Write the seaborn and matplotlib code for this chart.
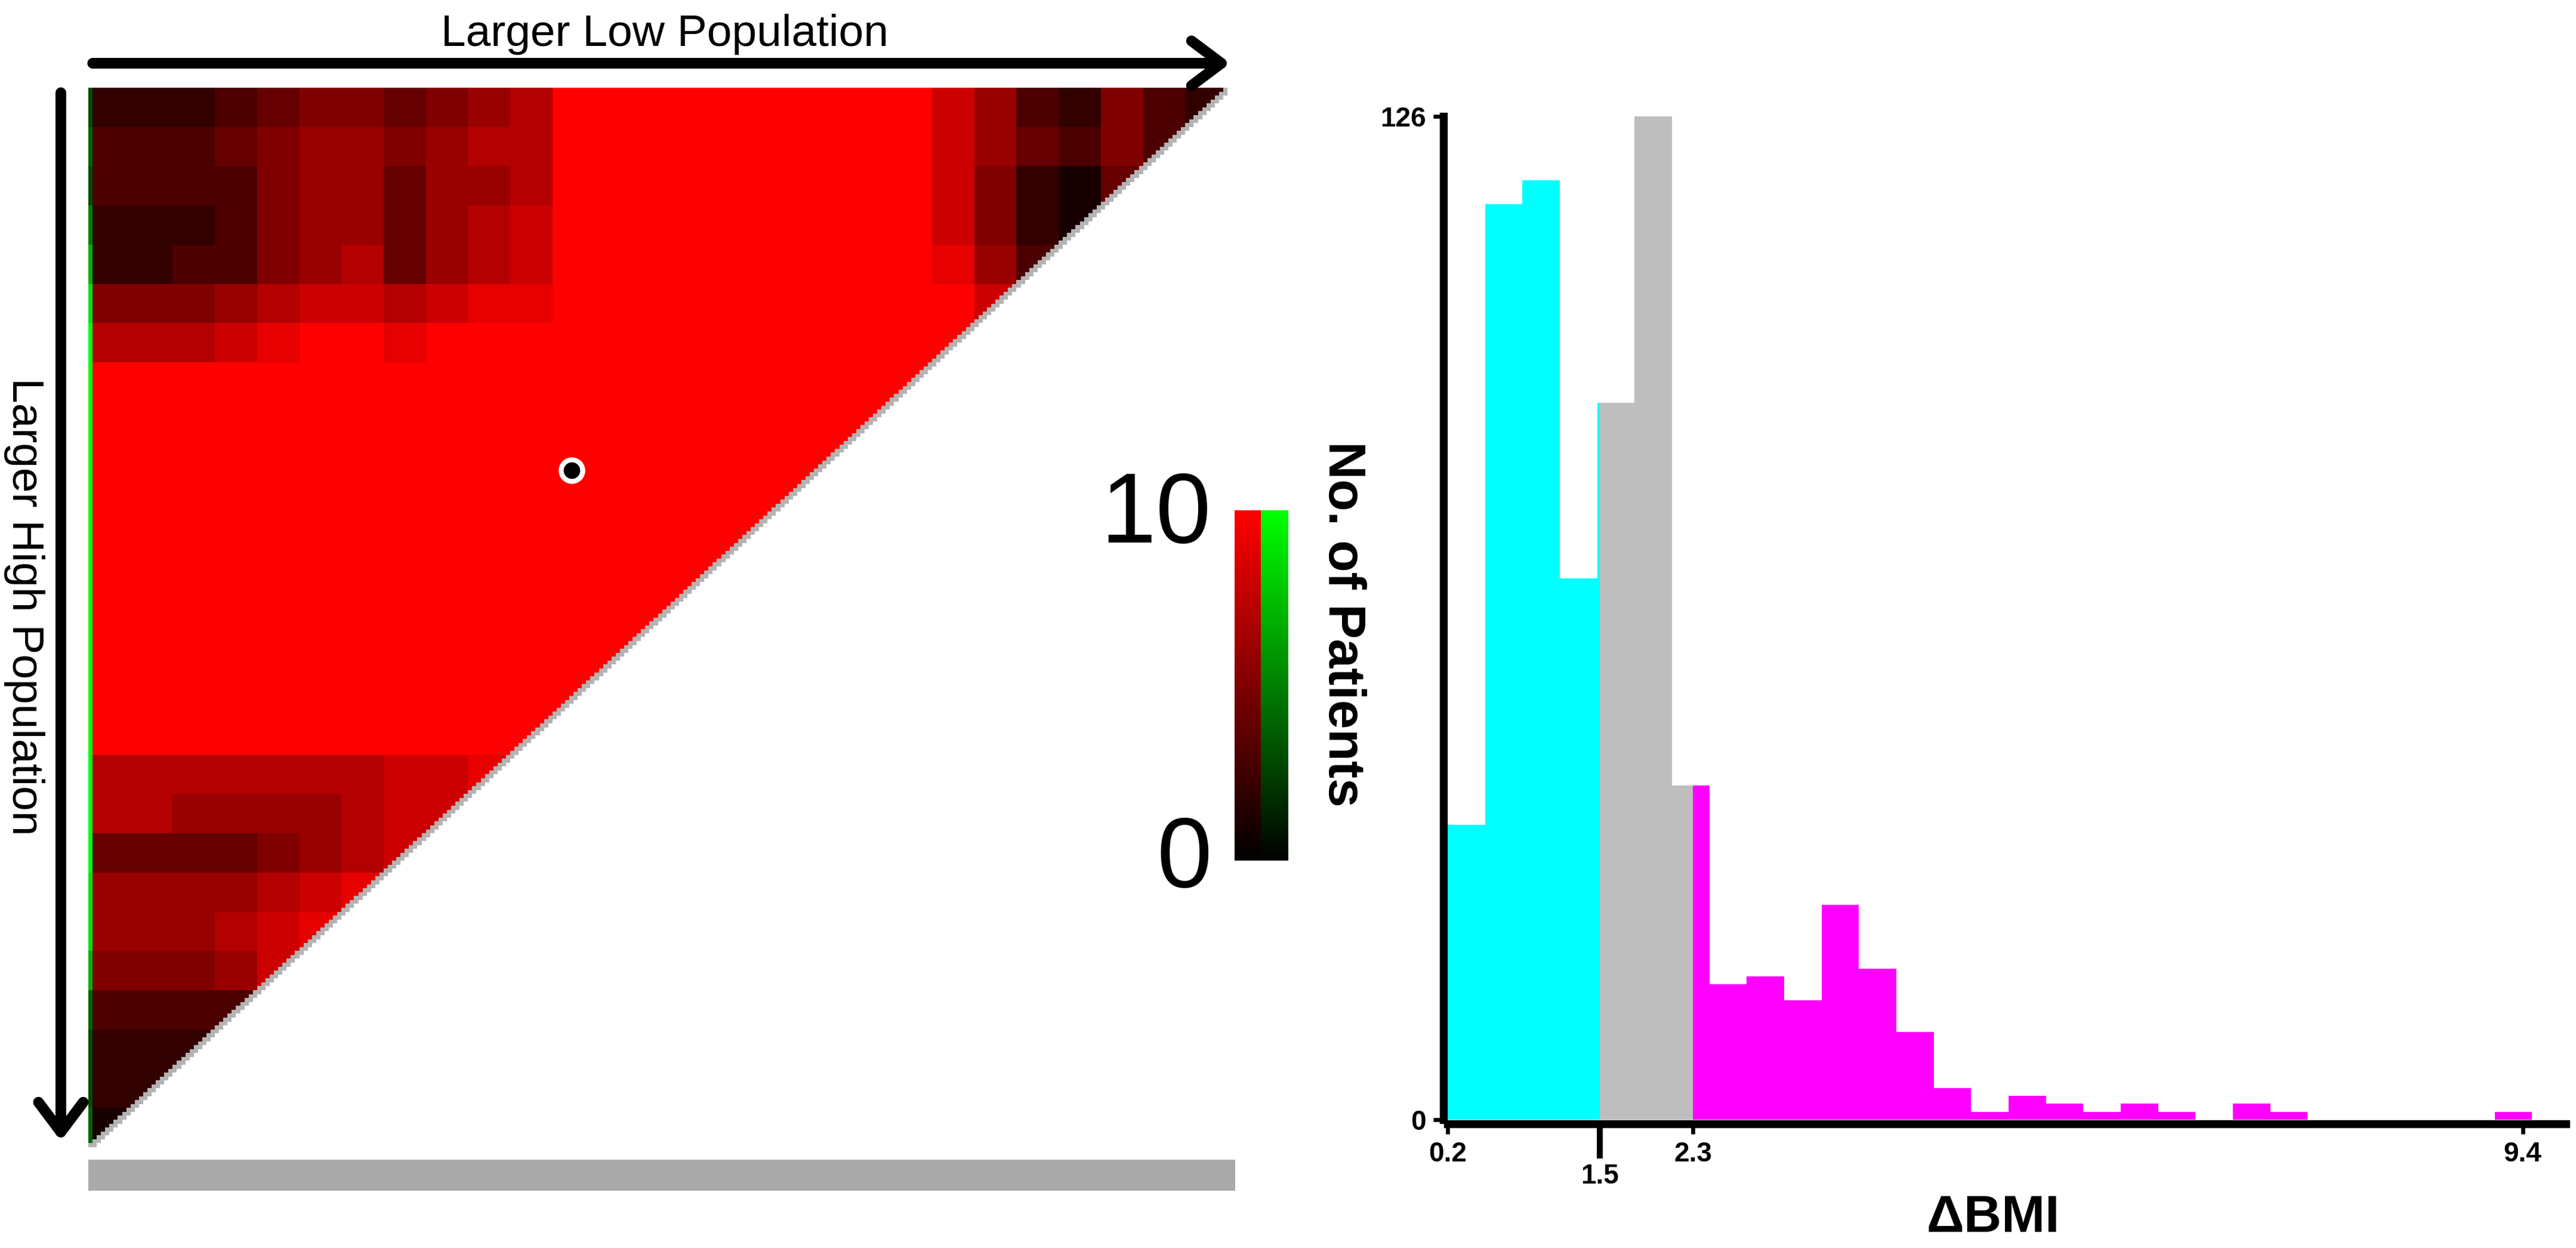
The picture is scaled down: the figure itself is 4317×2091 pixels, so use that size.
import numpy as np
import pandas as pd
import matplotlib
matplotlib.use("Agg")
import matplotlib.pyplot as plt
import seaborn as sns
from matplotlib.colors import LinearSegmentedColormap, ListedColormap, Normalize
from matplotlib.cm import ScalarMappable
from matplotlib.patches import FancyArrowPatch, Rectangle

sns.set_theme(style="white")
plt.rcParams['font.family'] = ['Liberation Sans', 'DejaVu Sans']
plt.rcParams['text.color'] = 'black'
plt.rcParams['axes.labelcolor'] = 'black'
plt.rcParams['xtick.color'] = 'black'
plt.rcParams['ytick.color'] = 'black'

# Histogram of delta BMI (counts per bin)
bin_start = 0.2
bin_width = 0.32
bin_counts = [37, 115, 118, 68, 90, 126, 42, 17, 18, 15, 27, 19, 11, 4, 1,
              3, 2, 1, 2, 1, 0, 2, 1, 0, 0, 0, 0, 0, 1]
thresholds = [1.5, 2.3]
group_colors = ['#00FFFF', '#BEBEBE', '#FF00FF']
x_ticks = [0.2, 2.3, 9.4]
x_tick_labels = ['0.2', '2.3', '9.4']
x_minor_ticks = [1.5]
x_minor_labels = ['1.5']
y_ticks = [0, 126]
y_tick_labels = ['0', '126']

# Cut-off map, coarse cells (rows = high cut-off, cols = low cut-off)
# digits = no. of patients, 'r' = 10 or more
coarse_rows = [
    "22234554567rrrrrrrrr8632532",
    "33345665677rrrrrrrrr864353",
    "33335664667rrrrrrrrr85214",
    "22235664678rrrrrrrrr8521",
    "22335674678rrrrrrrrr963",
    "55567887899rrrrrrrrrr8",
    "77789rr9rrrrrrrrrrrrr",
    "rrrrrrrrrrrrrrrrrrrr",
    "rrrrrrrrrrrrrrrrrrr",
    "rrrrrrrrrrrrrrrrrr",
    "rrrrrrrrrrrrrrrrr",
    "rrrrrrrrrrrrrrrr",
    "rrrrrrrrrrrrrrr",
    "rrrrrrrrrrrrrr",
    "rrrrrrrrrrrrr",
    "rrrrrrrrrrrr",
    "rrrrrrrrrrr",
    "7777777889",
    "776666788",
    "44445678",
    "6666789",
    "666789",
    "55568",
    "3333",
    "222",
    "22",
    "1",
]
# first column (other group), same rows
green_col = [3, 4, 3, 5, 7, 9, 10, 10, 10, 10, 10, 10, 10, 10, 10, 10, 10,
             10, 10, 10, 9, 9, 7, 4, 3, 3, 4]
best_cell = (97, 114)  # row, col of the chosen cut-off pair
rep = 10

W, H = 4317, 2091
fig = plt.figure(figsize=(W / 300, H / 300), dpi=300)
fig.patch.set_facecolor('white')

# ---------------- heatmap ----------------
ncell = len(coarse_rows)
coarse = np.array([[10.0 if ch == 'r' else float(ch)
                    for ch in row.ljust(ncell, 'r')[:ncell]]
                   for row in coarse_rows])
fine = np.kron(coarse, np.ones((rep, rep)))
N = fine.shape[0]
ii, jj = np.indices(fine.shape)
tri = ii + jj < N - 1
red_vals = np.where(tri & (jj > 0), fine, np.nan)
green_vals = np.where(tri & (jj == 0), np.repeat(green_col, rep)[:, None], np.nan)
edge_vals = np.where((ii + jj == N - 1) | (ii + jj == N), 1.0, np.nan)

red_cmap = LinearSegmentedColormap.from_list('blk_red', ['#000000', '#FF0000'])
green_cmap = LinearSegmentedColormap.from_list('blk_green', ['#000000', '#00FF00'])

axm = fig.add_axes([148 / W, 1 - 1922 / H, 1909 / W, 1775 / H])
sns.heatmap(red_vals, cmap=red_cmap, vmin=0, vmax=10, cbar=False,
            xticklabels=False, yticklabels=False, ax=axm)
sns.heatmap(green_vals, cmap=green_cmap, vmin=0, vmax=10, cbar=False,
            xticklabels=False, yticklabels=False, ax=axm)
sns.heatmap(edge_vals, cmap=ListedColormap(['#B4B4B4']), cbar=False,
            xticklabels=False, yticklabels=False, ax=axm)
axm.scatter(best_cell[1] + 0.5, best_cell[0] + 0.5, s=75, c='black',
            edgecolors='white', linewidths=2, zorder=5)
axm.axis('off')

# gray bar under the map
fig.add_artist(Rectangle((148 / W, 1 - 1995 / H), 1922 / W, 52 / H,
                         transform=fig.transFigure, color='#AAAAAA', lw=0))

# arrows + labels
fig.add_artist(FancyArrowPatch((147 / W, 1 - 106 / H), (2070 / W, 1 - 106 / H),
                               transform=fig.transFigure,
                               arrowstyle='->,head_length=0.6,head_width=0.45',
                               mutation_scale=20, lw=4.3, color='black'))
fig.add_artist(FancyArrowPatch((102 / W, 1 - 147 / H), (102 / W, 1 - 1920 / H),
                               transform=fig.transFigure,
                               arrowstyle='->,head_length=0.6,head_width=0.45',
                               mutation_scale=20, lw=4.3, color='black'))
fig.text(1114 / W, 1 - 57 / H, 'Larger Low Population', ha='center', va='center',
         fontsize=18)
fig.text(40 / W, 1 - 1016 / H, 'Larger High Population', ha='center', va='center',
         rotation=270, fontsize=18)

# colour bars
norm = Normalize(vmin=0, vmax=10)
for left, width, cmap in [(2069, 44, red_cmap), (2113, 46, green_cmap)]:
    cax = fig.add_axes([left / W, 1 - 1442 / H, width / W, 587 / H])
    cb = fig.colorbar(ScalarMappable(norm=norm, cmap=cmap), cax=cax)
    cb.set_ticks([])
    cb.outline.set_visible(False)
fig.text(2030 / W, 1 - 909 / H, '10', ha='right', va='baseline', fontsize=40)
fig.text(2031 / W, 1 - 1486 / H, '0', ha='right', va='baseline', fontsize=40)
fig.text(2250 / W, 1 - 1045 / H, 'No. of Patients', ha='center', va='center',
         rotation=270, fontsize=21, fontweight='bold')

# ---------------- histogram ----------------
axh = fig.add_axes([2426 / W, 1 - 1876 / H, 1874 / W, 1681 / H])
edges = bin_start + bin_width * np.arange(len(bin_counts) + 1)
bounds = [edges[0]] + thresholds + [edges[-1]]
counts = np.array(bin_counts)
for k, color in enumerate(group_colors):
    lo, hi = bounds[k], bounds[k + 1]
    inner = edges[(edges > lo + 1e-9) & (edges < hi - 1e-9)]
    g_edges = np.concatenate([[lo], inner, [hi]])
    centers = (g_edges[:-1] + g_edges[1:]) / 2
    idx = np.floor((centers - bin_start) / bin_width).astype(int)
    df = pd.DataFrame({'dbmi': centers, 'n': counts[idx]})
    sns.histplot(data=df, x='dbmi', weights='n', bins=list(g_edges), color=color,
                 alpha=1, linewidth=0, ax=axh)

axh.set_xlim(bin_start, 9.77)
axh.set_ylim(0, 126)
sns.despine(ax=axh)
for side in ['left', 'bottom']:
    axh.spines[side].set_linewidth(3.2)
    axh.spines[side].set_color('black')
    axh.spines[side].set_position(('outward', 1.6))
axh.set_xticks(x_ticks, labels=x_tick_labels)
axh.set_xticks(x_minor_ticks, labels=x_minor_labels, minor=True)
axh.set_yticks(y_ticks, labels=y_tick_labels)
axh.tick_params(axis='both', which='major', bottom=True, left=True,
                direction='out', length=4, width=1.6, labelsize=11, pad=3,
                color='black')
axh.tick_params(axis='x', which='minor', bottom=True, direction='out',
                length=14, width=2.4, labelsize=11, pad=2, color='black')
for lab in axh.get_xticklabels() + axh.get_xticklabels(minor=True) + axh.get_yticklabels():
    lab.set_fontweight('bold')
axh.set_ylabel('')
axh.set_xlabel('ΔBMI', fontsize=21, fontweight='bold', va='baseline')
axh.xaxis.set_label_coords(0.488, -0.112)
axh.set_facecolor('white')

fig.savefig('out.png', dpi=300, facecolor='white')
